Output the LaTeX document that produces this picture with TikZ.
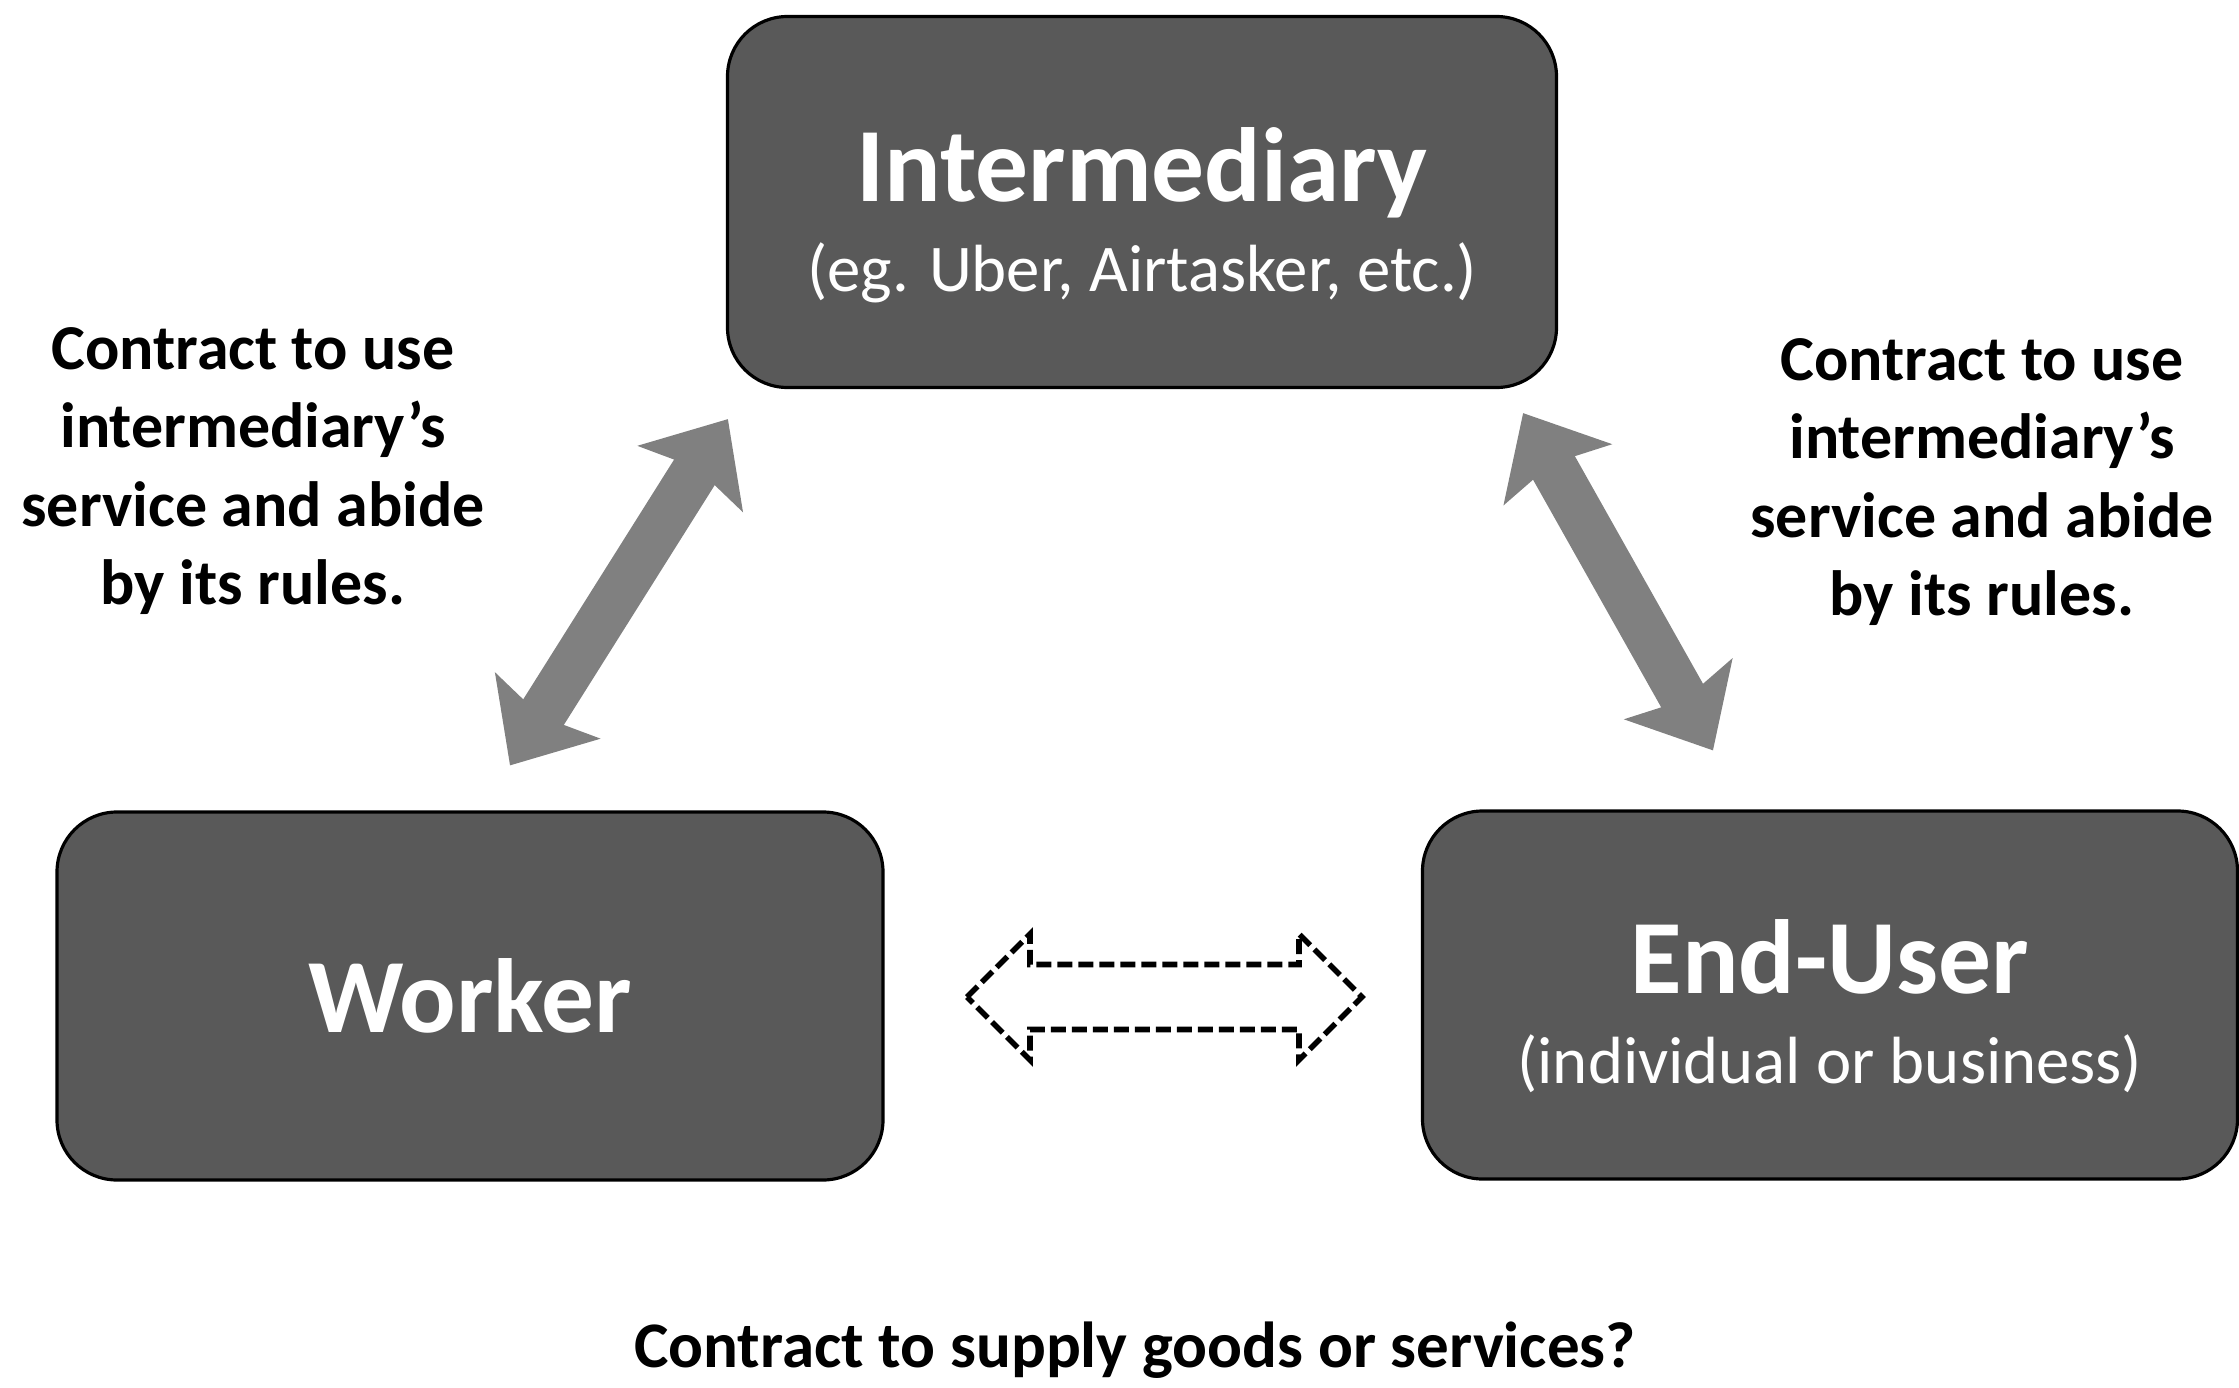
\documentclass[tikz,border=0pt]{standalone}
\usepackage{fontspec}
\setmainfont{Carlito}
\usetikzlibrary{arrows.meta}
\usetikzlibrary{positioning}
\usetikzlibrary{calc}
\definecolor{boxgray}{HTML}{595959}
\definecolor{arrowgray}{HTML}{808080}
\tikzset{party/.style={rectangle, rounded corners=0.6cm, draw=black, line width=0.9pt,
   fill=boxgray, text=white, align=center, minimum height=3.68cm}}
\tikzset{title/.style={font=\bfseries\fontsize{30}{34}\selectfont}}
\tikzset{sub/.style={font=\fontsize{19}{22}\selectfont}}
\tikzset{note/.style={align=center, font=\bfseries\fontsize{18.2}{22.3}\selectfont}}
\tikzset{link/.style={line width=0.48cm, draw=arrowgray,
   {Stealth[length=0.7cm, width=1.22cm, inset=0.12cm]}-{Stealth[length=0.7cm, width=1.22cm, inset=0.12cm]}}}
\tikzset{maybe/.style={draw=black, dash pattern=on 0.15cm off 0.06cm,
   line width=1.6pt, line join=miter}}

\begin{document}
\begin{tikzpicture}

    \useasboundingbox (0,0) rectangle (22.39,13.87);

    \node[party, minimum width=8.29cm, minimum height=3.71cm] (inter) at (11.42,11.85) {};
    \node[title, text=white] (intername) at (11.42,12.14) {Intermediary};
    \node[sub, text=white, below=0cm of intername] (intersub) {(eg. Uber, Airtasker, etc.)};

    \node[party, minimum width=8.26cm, title] (worker) at (4.70,3.91) {Worker};

    \node[party, minimum width=8.15cm] (user) at (18.30,3.92) {};
    \node[title, text=white] (username) at (18.30,4.30) {End-User};
    \node[sub, text=white, below=0.15cm of username] (usersub) {(individual or business)};

    % contracts with the platform
    \coordinate (wtip) at ($(worker.north)+(0.40,0.45)$);
    \coordinate (itipl) at ($(inter.south west)+(0.02,-0.30)$);
    \coordinate (itipr) at ($(inter.south east)+(-0.35,-0.24)$);
    \coordinate (utip) at ($(user.north)+(-1.17,0.59)$);
    \draw[link] (wtip) -- (itipl);
    \draw[link] (itipr) -- (utip);

    % the open question between worker and end-user
    \coordinate (direct) at (11.645,3.90);
    \draw[maybe] ($(direct)+(-1.975,0)$) -- ++(0.63,0.63) -- ++(0,-0.305) -- ++(2.69,0)
       -- ++(0,0.305) -- ++(0.63,-0.63) -- ++(-0.63,-0.63) -- ++(0,0.305) -- ++(-2.69,0)
       -- ++(0,-0.305) -- cycle;

    \node[note] (leftnote) at (2.53,9.16) {Contract to use\\intermediary's\\service and abide\\by its rules.};
    \node[note] (rightnote) at (19.82,9.05) {Contract to use\\intermediary's\\service and abide\\by its rules.};
    \node[note, font=\bfseries\fontsize{18.5}{22}\selectfont] (bottomnote) at (11.35,0.37) {Contract to supply goods or services?};

\end{tikzpicture}
\end{document}
